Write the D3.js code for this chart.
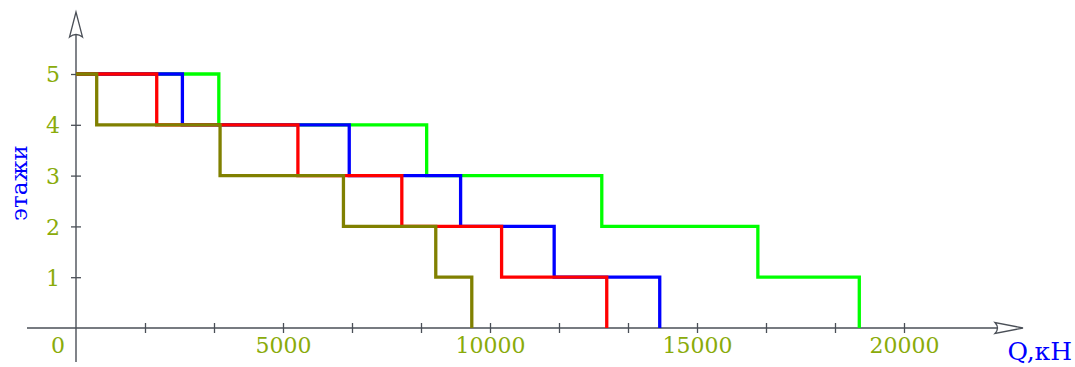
<!DOCTYPE html>
<html><head><meta charset="utf-8">
<script src="https://cdn.jsdelivr.net/npm/d3@7"></script>
<style>body{margin:0;background:#fff}svg{display:block}</style>
</head><body><svg id="c" width="1075" height="367"></svg>
<script>
// floors from top to bottom
const floors = [5, 4, 3, 2, 1];
// Q (kN) at which each series steps down from the given floor
const olive = [500, 3480, 6460, 8690, 9560];
const red   = [1950, 5360, 7870, 10280, 12820];
const blue  = [2570, 6600, 9290, 11550, 14100];
const green = [3450, 8470, 12700, 16470, 18920];
const seriesNames = ["green", "blue", "red", "olive"];
const seriesColors = ["#00ff00", "#0000ff", "#ff0000", "#808000"];
const xTickLabels = [5000, 10000, 15000, 20000];
const yTickLabels = [1, 2, 3, 4, 5];
const xLabel = "Q,кН";
const yLabel = "этажи";

const seriesData = {green, blue, red, olive};

const svg = d3.select("#c");
const x = d3.scaleLinear().domain([0, 20000]).range([76, 904]);
const y = d3.scaleLinear().domain([0, 5]).range([328, 74]);
const axisColor = "#4a4f57";
const labelColor = "#8aab0a";
const font = "'DejaVu Serif', serif";

// x axis line with arrow
svg.append("line").attr("x1", 27).attr("x2", 1020).attr("y1", y(0)).attr("y2", y(0))
  .attr("stroke", axisColor).attr("stroke-width", 1.4);
svg.append("path")
  .attr("d", `M1023,${y(0)} L995,${y(0)-5.5} Q1000,${y(0)} 995,${y(0)+5.5} Z`)
  .attr("fill", "#fff").attr("stroke", axisColor).attr("stroke-width", 1.3);
// y axis line with arrow
svg.append("line").attr("x1", x(0)).attr("x2", x(0)).attr("y1", 362).attr("y2", 15)
  .attr("stroke", axisColor).attr("stroke-width", 1.4);
svg.append("path")
  .attr("d", `M${x(0)},12 L${x(0)-6.5},37 Q${x(0)},32 ${x(0)+6.5},37 Z`)
  .attr("fill", "#fff").attr("stroke", axisColor).attr("stroke-width", 1.3);

// x tick marks (every 5000/3)
const xTickVals = d3.range(1, 13).map(i => i * 5000 / 3);
const gx = svg.append("g").attr("transform", `translate(0,${y(0)})`)
  .call(d3.axisBottom(x).tickValues(xTickVals).tickSize(10).tickFormat(""));
gx.select(".domain").remove();
gx.selectAll(".tick line").attr("y1", -5).attr("y2", 5).attr("stroke", axisColor).attr("stroke-width", 1.3);

const gxl = svg.append("g").attr("transform", `translate(0,${y(0)})`)
  .call(d3.axisBottom(x).tickValues(xTickLabels).tickSize(0).tickPadding(0).tickFormat(d3.format("d")));
gxl.select(".domain").remove();
gxl.selectAll(".tick text").attr("y", 25).attr("dy", 0)
  .attr("fill", labelColor).style("font-family", font).style("font-size", "22px");

// y ticks
const gy = svg.append("g").attr("transform", `translate(${x(0)},0)`)
  .call(d3.axisLeft(y).tickValues(yTickLabels).tickSize(0).tickPadding(0).tickFormat(d3.format("d")));
gy.select(".domain").remove();
gy.selectAll(".tick").append("line").attr("x1", -5).attr("x2", 5).attr("stroke", axisColor).attr("stroke-width", 1.3);
gy.selectAll(".tick text").attr("x", -16).attr("dy", "0.36em")
  .attr("fill", labelColor).style("font-family", font).style("font-size", "22px");

// origin label
svg.append("text").attr("x", 58).attr("y", 353).attr("text-anchor", "middle")
  .attr("fill", labelColor).style("font-family", font).style("font-size", "22px").text("0");

// step lines
const line = d3.line().x(d => x(d[0])).y(d => y(d[1]));
seriesNames.forEach((name, si) => {
  const q = seriesData[name];
  const pts = [[0, floors[0]]];
  floors.forEach((f, i) => { pts.push([q[i], f]); pts.push([q[i], f - 1]); });
  svg.append("path").attr("d", line(pts)).attr("fill", "none")
    .attr("stroke", seriesColors[si]).attr("stroke-width", 3.3)
    .attr("stroke-linejoin", "miter").attr("stroke-linecap", "butt");
});

// axis labels
svg.append("text").attr("x", 1072).attr("y", 360).attr("text-anchor", "end")
  .attr("fill", "#0000ff").style("font-family", font).style("font-size", "25px").text(xLabel);
svg.append("text").attr("transform", "translate(27,183) rotate(-90)").attr("text-anchor", "middle")
  .attr("fill", "#0000ff").style("font-family", font).style("font-size", "23px").text(yLabel);
</script></body></html>
